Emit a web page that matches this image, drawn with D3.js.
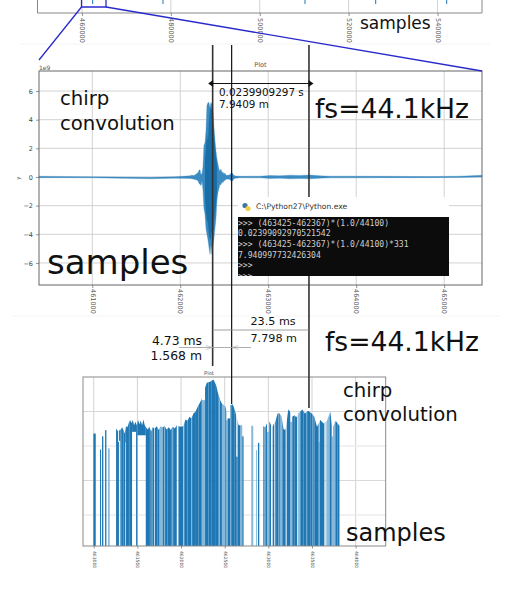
<!DOCTYPE html>
<html><head><meta charset="utf-8">
<script src="https://cdn.jsdelivr.net/npm/d3@7/dist/d3.min.js"></script>
<style>
html,body{margin:0;padding:0;background:#fff}
svg{display:block}
text{font-family:"DejaVu Sans",sans-serif}
</style></head><body><svg id="c" width="524" height="590"></svg>
<script>
// ---- data ----
const topTicks=[460000,480000,500000,520000,540000];
const topSpikes=[462418,478234,510180,526086,542060];
const mainXTicks=[461000,462000,463000,464000,465000];
const mainYTicks=[-6,-4,-2,0,2,4,6];
const waveSample=[460394,460633,461000,461315,461656,461940,462110,462133,462156,462178,462201,462213,462224,462235,462247,462258,462269,462281,462292,462303,462315,462326,462338,462349,462360,462372,462383,462394,462406,462417,462428,462440,462451,462462,462474,462485,462497,462508,462519,462542,462565,462576,462593,462610,462633,462678,462905,463019,463133,463246,463360,463474,463587,463701,464270,464838,465179,465430];
const waveUpper=[.05,.04,.02,0,-.02,.02,.08,.13,.1,.2,.3,.47,.5,.15,.25,.7,2.2,2.4,3.2,5.0,5.2,5.2,4.8,5.2,5.1,4.6,3.5,2.6,1.8,1.3,.9,.55,.4,.55,.3,.35,.2,.28,.12,.12,.15,.27,.27,.1,.07,.05,.06,.1,.08,.13,.11,.14,.08,.06,.05,.03,.06,.12];
const waveLower=[-.05,-.05,-.06,-.09,-.12,-.08,-.1,-.12,-.15,-.2,-.25,-.45,-.5,-.6,-.3,-.9,-2.2,-2.6,-3.6,-4,-4.4,-4.9,-5.4,-4.7,-5.4,-4.8,-4.3,-3.6,-2.9,-1.6,-1.1,-.8,-.5,-.55,-.35,-.4,-.25,-.25,-.15,-.14,-.18,-.28,-.28,-.12,-.08,-.05,-.06,-.1,-.09,-.12,-.11,-.13,-.08,-.06,-.05,-.05,-.03,0];
const coreSample=[462281,462292,462303,462315,462326,462338,462349,462360,462372,462383,462394,462406,462417];
const coreUpper=[1.2,2,3,2.5,3.8,4.6,4.8,4.8,4,3,2.2,1.4,.8];
const coreLower=[-1.4,-2.4,-3,-3.2,-4,-4.4,-4.2,-3.8,-3.8,-3,-2.5,-2,-1];
const markerSamples=[462368,462584,463463];
const logXTicks=[461000,461500,462000,462500,463000,463500,464000];
const logYGrid=[6,7,8,9];
const barStart=[460996,461072,461095,461130,461256,461279,461305,461321,461340,461370,461393,461412,461485,461596,461634,461653,461699,461729,461790,461844,461893,461970,462035,462073,462123,462161,462199,462275,462314,462352,462390,462428,462506,462533,462564,462609,462632,462648,462701,462881,462942,462965,463011,463049,463079,463098,463160,463213,463274,463297,463366,463404,463480,463530,463587,463702,463767,463794];
const barEnd=[461023,461084,461110,461145,461279,461290,461321,461340,461362,461393,461412,461439,461500,461634,461653,461691,461729,461752,461844,461893,461951,462027,462073,462123,462161,462199,462237,462314,462352,462390,462428,462468,462518,462564,462609,462632,462648,462678,462716,462896,462957,462984,463030,463068,463098,463137,463198,463251,463297,463328,463404,463480,463530,463576,463641,463725,463794,463817];
const barLevel=[8.36,7.9,8.28,8.46,8.51,8.12,8.46,8.51,8.36,8.6,8.65,8.75,8.73,8.51,8.41,8.36,8.54,8.46,8.56,8.48,8.56,8.56,8.77,8.85,8.94,9.09,9.31,9.67,9.83,9.91,9.67,9.3,9.18,8.8,9.2,8.99,7.69,8.6,8.28,8.09,8.57,8.51,8.7,8.54,8.7,8.94,8.48,9.04,8.89,8.85,9.04,8.99,8.92,8.6,8.75,8.96,8.7,8.6];
const paleStart=[461164,461752,462237,462468,462518,462678,462804,462858,462984,463137,463251,463335,463576,463664,463725,463740];
const paleEnd=[461183,461790,462275,462506,462533,462701,462827,462869,463011,463160,463274,463366,463587,463702,463740,463767];
const paleLevel=[7.93,8.56,9.33,9.14,8.75,8.56,8.53,7.88,8.41,8.85,8.7,8.96,8.12,8.7,8.28,8.56];
const hangStart=[461290,461362,461439,461500];
const hangEnd=[461305,461370,461485,461596];
const hangBottom=[8.15,8.1,8.41,8.31];
const stripeSample=[461668,461812,461905,462031,462122,462440,462570,463120,463207,463350,463440,463510,463650];
const contourSample=[460900,461240,461256,461271,461305,461324,461340,461355,461370,461385,461401,461416,461431,461447,461462,461477,461492,461508,461523,461538,461554,461569,461584,461599,461618,461638,461657,461676,461699,461722,461745,461767,461790,461813,461836,461859,461882,461905,461928,461951,461989,462027,462050,462073,462096,462119,462142,462165,462188,462211,462234,462272,462295,462333,462371,462402,462424,462447,462468,462506,462525,462564,462594,462621,462659,462716,462942,462965,462992,463014,463041,463079,463106,463129,463152,463175,463198,463228,463251,463274,463297,463320,463350,463389,463419,463457,463496,463526,463557,463595,463633,463671,463709,463733,463771,463794,463817];
const contourLevel=[8.7,8.7,8.51,8.44,8.46,8.54,8.46,8.36,8.57,8.54,8.67,8.75,8.67,8.75,8.6,8.7,8.6,8.75,8.63,8.73,8.6,8.77,8.6,8.54,8.48,8.56,8.41,8.54,8.51,8.57,8.46,8.57,8.54,8.57,8.48,8.54,8.46,8.56,8.51,8.6,8.56,8.57,8.77,8.73,8.85,8.8,8.94,8.99,9.12,9.23,9.35,9.67,9.83,9.86,9.93,9.76,9.52,9.33,9.23,9.15,8.99,9.18,9.2,8.99,8.6,8.6,8.57,8.54,8.7,8.7,8.54,8.7,8.94,8.94,8.85,8.48,8.48,9.06,8.99,8.85,8.89,8.83,8.96,9.06,8.94,9.02,8.94,8.85,8.56,8.75,8.65,8.73,8.99,8.51,8.73,8.65,8.57];
const consoleLines=[">>> (463425-462367)*(1.0/44100)","0.02399092970521542",">>> (463425-462367)*(1.0/44100)*331","7.940997732426304",">>>",">>>"];

// ---- helpers ----
const svg=d3.select("#c");
const BLUE="#1f77b4", GRID="#d2d2d2";
const fmt=d3.format("d");
function label(x,y,t,size,anchor,fill){
  return svg.append("text").attr("x",x).attr("y",y).attr("font-size",size)
    .attr("text-anchor",anchor||"start").attr("fill",fill||"#111").text(t);
}
function bottomAxis(scale,ticks,y,size,labelGap,tickLen){
  const g=svg.append("g").attr("transform",`translate(0,${y})`);
  g.call(d3.axisBottom(scale).tickValues(ticks).tickFormat(fmt).tickSize(tickLen).tickSizeOuter(0));
  g.select(".domain").remove();
  g.selectAll(".tick line").attr("stroke","#666").attr("stroke-width",.7);
  g.selectAll(".tick text").attr("transform",`translate(0,${labelGap}) rotate(90)`)
    .attr("x",0).attr("y",0).attr("dy","0.35em").attr("text-anchor","start")
    .attr("font-size",size).attr("fill","#555");
  return g;
}
function vGrid(scale,ticks,y0,y1,w){
  svg.append("g").selectAll("line").data(ticks).join("line")
    .attr("x1",d=>scale(d)).attr("x2",d=>scale(d)).attr("y1",y0).attr("y2",y1)
    .attr("stroke",GRID).attr("stroke-width",w||1);
}
function frame(x0,y0,x1,y1,color,w){
  svg.append("rect").attr("x",x0).attr("y",y0).attr("width",x1-x0).attr("height",y1-y0)
    .attr("fill","none").attr("stroke",color).attr("stroke-width",w||1);
}

// faint panel separators
svg.append("line").attr("x1",20).attr("x2",490).attr("y1",44).attr("y2",44).attr("stroke","#f4f4f4");
svg.append("line").attr("x1",12).attr("x2",500).attr("y1",316).attr("y2",316).attr("stroke","#f4f4f4");

// ---- top panel ----
const xTop=d3.scaleLinear().domain([450000,550000]).range([37.5,482]);
const yTop=d3.scaleLinear().domain([-7.5,0]).range([13,-19]);
vGrid(xTop,topTicks,-2,13);
svg.append("g").selectAll("line").data(topSpikes).join("line")
  .attr("x1",d=>xTop(d)).attr("x2",d=>xTop(d)).attr("y1",-2).attr("y2",yTop(-5.4))
  .attr("stroke",BLUE).attr("stroke-width",1);
svg.append("path").attr("d",`M${xTop.range()[0]},-2V13H${xTop.range()[1]}V-2`).attr("fill","none").attr("stroke","#888").attr("stroke-width",1);
bottomAxis(xTop,topTicks,13,6.5,5,3);

// ---- main panel ----
const xMain=d3.scaleLinear().domain([460394,465430]).range([39,482]);
const yMain=d3.scaleLinear().domain([-7.54,7.4]).range([285,71]);
vGrid(xMain,mainXTicks,71,285);
svg.append("g").selectAll("line").data(mainYTicks).join("line")
  .attr("x1",39).attr("x2",482).attr("y1",d=>yMain(d)).attr("y2",d=>yMain(d))
  .attr("stroke",GRID).attr("stroke-width",1);
const area=d3.area().x(d=>xMain(d)).y0((d,i)=>yMain(waveLower[i])).y1((d,i)=>yMain(waveUpper[i]));
svg.append("path").datum(waveSample).attr("d",area).attr("fill","#3a8bc2").attr("stroke","#2f82bb").attr("stroke-width",.3);
const coreArea=d3.area().x(d=>xMain(d)).y0((d,i)=>yMain(coreLower[i])).y1((d,i)=>yMain(coreUpper[i]));
svg.append("path").datum(coreSample).attr("d",coreArea).attr("fill","#1a6ea8");
frame(39,71,482,285,"#666",1);
bottomAxis(xMain,mainXTicks,285,6.5,4,3);
const yAx=svg.append("g").attr("transform","translate(39,0)")
  .call(d3.axisLeft(yMain).tickValues(mainYTicks).tickFormat(d=>d<0?"\u2212"+(-d):d).tickSize(3).tickSizeOuter(0));
yAx.select(".domain").remove();
yAx.selectAll(".tick line").attr("stroke","#666").attr("stroke-width",.7);
yAx.selectAll(".tick text").attr("font-size",6.5).attr("fill","#444");
label(39,69.5,"1e9",6,"start","#555");
label(260.5,67,"Plot",6.5,"middle","#555");
svg.append("text").attr("transform","translate(20,178) rotate(-90)").attr("font-size",5.5).attr("fill","#555").attr("text-anchor","middle").text("y");

// ---- log panel ----
const xLog=d3.scaleLinear().domain([460877,464344]).range([83,385.7]);
const yLog=d3.scaleLog().domain([1.26e5,1e10]).range([546,377]);
vGrid(xLog,logXTicks,377,546);
svg.append("g").selectAll("line").data(logYGrid).join("line")
  .attr("x1",83).attr("x2",385.7).attr("y1",d=>yLog(10**d)).attr("y2",d=>yLog(10**d))
  .attr("stroke",d=>d===9||d===7?"#d8d8d8":"#ececec").attr("stroke-width",d=>d===9||d===7?1:1.6);
const barBottom=yLog.range()[0];
const contourAt=d3.scaleLinear().domain(contourSample).range(contourLevel);
const contourArea=d3.area().x(d=>xLog(d)).y0(barBottom).y1((d,i)=>yLog(10**contourLevel[i]));
svg.append("clipPath").attr("id","under").append("path").datum(contourSample).attr("d",contourArea);
// bars that reach the contour take their jagged top from it
const reach=(s0,s1,lv)=>s0>=461250&&contourAt((s0+s1)/2)-lv<.18;
const barTop=(s0,s1,lv)=>reach(s0,s1,lv)?377:yLog(10**lv);
const plot=svg.append("g").attr("clip-path","url(#under)");
plot.append("g").selectAll("rect").data(paleStart).join("rect")
  .attr("x",d=>xLog(d)).attr("width",(d,i)=>xLog(paleEnd[i])-xLog(d))
  .attr("y",(d,i)=>barTop(d,paleEnd[i],paleLevel[i])).attr("height",(d,i)=>barBottom-barTop(d,paleEnd[i],paleLevel[i]))
  .attr("fill","#86b8da");
plot.append("g").selectAll("rect").data(barStart).join("rect")
  .attr("x",d=>xLog(d)).attr("width",(d,i)=>xLog(barEnd[i])-xLog(d))
  .attr("y",(d,i)=>barTop(d,barEnd[i],barLevel[i])).attr("height",(d,i)=>barBottom-barTop(d,barEnd[i],barLevel[i]))
  .attr("fill",BLUE);
plot.append("g").selectAll("rect").data(hangStart).join("rect")
  .attr("x",d=>xLog(d)).attr("width",(d,i)=>xLog(hangEnd[i])-xLog(d))
  .attr("y",377).attr("height",(d,i)=>yLog(10**hangBottom[i])-377)
  .attr("fill",BLUE);
plot.append("g").selectAll("line").data(stripeSample).join("line")
  .attr("x1",d=>xLog(d)).attr("x2",d=>xLog(d)).attr("y1",377).attr("y2",barBottom)
  .attr("stroke","#9cc6e2").attr("stroke-width",.9);
frame(83,377,385.7,546,"#8a8a8a",1);
bottomAxis(xLog,logXTicks,546,4.5,5,2.5);
label(209,374.5,"Plot",5.2,"middle","#555");

// ---- marker lines ----
const mx=markerSamples.map(d=>xMain(d));
const lineEnd=[366,404,408];
svg.append("g").selectAll("line").data(mx).join("line")
  .attr("x1",d=>d).attr("x2",d=>d).attr("y1",45).attr("y2",(d,i)=>lineEnd[i])
  .attr("stroke",(d,i)=>i===1?"#111":"#333").attr("stroke-width",(d,i)=>i===1?1.2:1.6);

// double arrow
svg.append("line").attr("x1",mx[0]).attr("x2",mx[2]).attr("y1",83.5).attr("y2",83.5).attr("stroke","#111").attr("stroke-width",1.2);
svg.append("path").attr("d",`M${mx[0]-4.5},83.5l5,-3.5v7z M${mx[2]+4.5},83.5l-5,-3.5v7z`).attr("fill","#111");

// measure lines
svg.append("line").attr("x1",mx[0]).attr("x2",mx[2]).attr("y1",330).attr("y2",330).attr("stroke","#888").attr("stroke-width",.8);
svg.append("line").attr("x1",179).attr("x2",251).attr("y1",347.5).attr("y2",347.5).attr("stroke","#999").attr("stroke-width",.8);
svg.append("path").attr("d",`M${mx[0]},347.5l-7,-2m7,2l-7,2 M${mx[1]},347.5l7,-2m-7,2l7,2`).attr("fill","none").attr("stroke","#aaa").attr("stroke-width",.6);

// ---- console window ----
svg.append("rect").attr("x",238).attr("y",197).attr("width",211).attr("height",20).attr("fill","#fff");
svg.append("rect").attr("x",238).attr("y",217).attr("width",211).attr("height",59).attr("fill","#0c0c0c");
svg.append("circle").attr("cx",245).attr("cy",205.5).attr("r",2.6).attr("fill","#3f76a8");
svg.append("circle").attr("cx",248).attr("cy",208.5).attr("r",2.6).attr("fill","#f2cf4a");
label(256,208.5,"C:\\Python27\\Python.exe",7.6,"start","#333");
const lineY=d3.scaleLinear().domain([0,5]).range([225.5,279]);
svg.append("clipPath").attr("id","con").append("rect").attr("x",238).attr("y",217).attr("width",211).attr("height",59);
svg.append("g").attr("clip-path","url(#con)").selectAll("text").data(consoleLines).join("text")
  .attr("x",238).attr("y",(d,i)=>lineY(i)).attr("font-size",8.1)
  .style("font-family","'DejaVu Sans Mono',monospace").attr("fill","#cfcfcf").text(d=>d);

// ---- annotations ----
label(360,29,"samples",17);
label(60,105,"chirp",19.7);
label(60,130,"convolution",19.7);
label(315,118,"fs=44.1kHz",26.6);
label(219,96,"0.0239909297 s",10.4);
label(219,108,"7.9409 m",10.4);
label(47,274,"samples",34);
label(250.5,325,"23.5 ms",11.2);
label(250.5,342,"7.798 m",11.2);
label(202,345,"4.73 ms",12.4,"end");
label(202,360,"1.568 m",12.4,"end");
label(325,351,"fs=44.1kHz",26.6);
label(343,397,"chirp",19.7);
label(343,421,"convolution",19.7);
label(346,541,"samples",24);

// ---- zoom indicator ----
const ZB="#2a2acc";
svg.append("path").attr("d","M81.5,-2V7H106V-2").attr("fill","none").attr("stroke",ZB).attr("stroke-width",1.3);
svg.append("path").attr("d","M81.5,7L39,60M106,7L482,71").attr("fill","none").attr("stroke",ZB).attr("stroke-width",1.3);
</script></body></html>
